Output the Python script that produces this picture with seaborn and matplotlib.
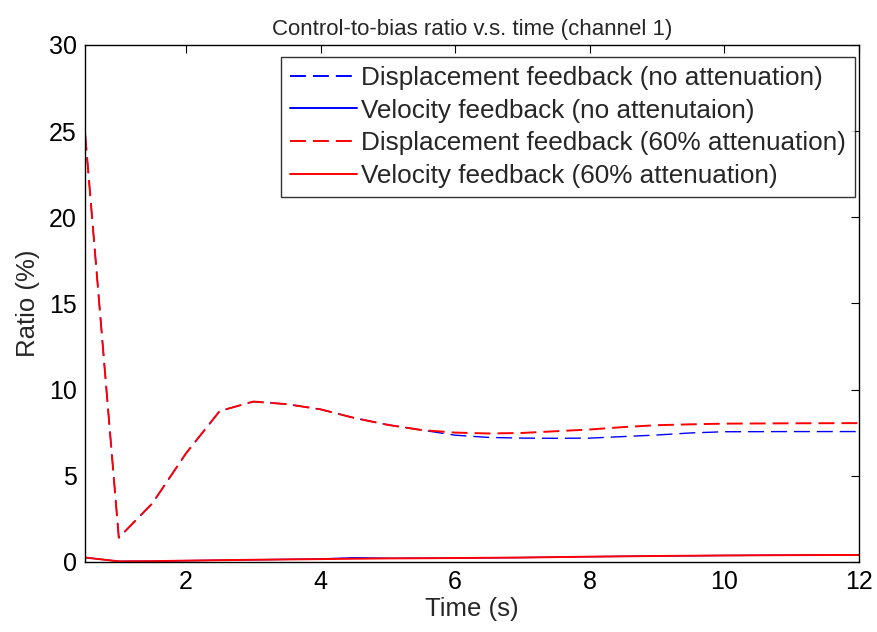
import numpy as np
import pandas as pd
import matplotlib
matplotlib.use("Agg")
import matplotlib.pyplot as plt
import seaborn as sns

# Time samples (s)
t_disp = [0.5, 1.0, 1.5, 2.0, 2.5, 3.0, 3.5, 4.0, 4.5, 5.0, 5.5, 6.0, 6.5, 7.0,
          7.5, 8.0, 8.5, 9.0, 9.5, 10.0, 11.0, 12.0]
# Displacement feedback, no attenuation (%)
disp_no_att = [24.8, 1.4, 3.4, 6.3, 8.75, 9.3, 9.15, 8.85, 8.35, 7.95, 7.65, 7.35,
               7.22, 7.18, 7.17, 7.18, 7.27, 7.36, 7.48, 7.55, 7.56, 7.56]
# Displacement feedback, 60% attenuation (%)
disp_60_att = [24.8, 1.4, 3.4, 6.3, 8.75, 9.3, 9.15, 8.85, 8.35, 7.95, 7.65, 7.5,
               7.45, 7.48, 7.58, 7.68, 7.82, 7.93, 7.98, 8.02, 8.04, 8.05]

t_vel = [0.5, 1.0, 1.5, 2.0, 3.0, 4.0, 4.5, 5.0, 6.0, 7.0, 8.0, 9.0, 10.0, 11.0, 12.0]
# Velocity feedback, no attenuation (%)
vel_no_att = [0.25, 0.03, 0.04, 0.07, 0.12, 0.17, 0.24, 0.21, 0.22, 0.25, 0.3,
              0.34, 0.37, 0.39, 0.4]
# Velocity feedback, 60% attenuation (%)
vel_60_att = [0.25, 0.03, 0.04, 0.07, 0.12, 0.16, 0.18, 0.2, 0.22, 0.25, 0.3,
              0.34, 0.37, 0.39, 0.4]

labels = ["Displacement feedback (no attenuation)",
          "Velocity feedback (no attenutaion)",
          "Displacement feedback (60% attenuation)",
          "Velocity feedback (60% attenuation)"]

sns.set_theme(style="white")
plt.rcParams["font.family"] = ["Liberation Sans", "DejaVu Sans"]

fig = plt.figure(figsize=(8.78, 6.32), dpi=100)
ax = fig.add_axes([0.097, 0.111, 0.881, 0.818])

dash = (0, (8.2, 3.6))
# the no-attenuation curves sit underneath, slightly thinner, so the
# attenuated curves cover them where the two coincide
series = [
    (t_disp, disp_no_att, labels[0], "#0000ff", (0, (11.5, 5.0)), 1.0),
    (t_vel, vel_no_att, labels[1], "#0000ff", "-", 1.0),
    (t_disp, disp_60_att, labels[2], "#ff0000", dash, 1.4),
    (t_vel, vel_60_att, labels[3], "#ff0000", "-", 1.4),
]
for t, y, lab, col, ls, lw in series:
    df = pd.DataFrame({"Time": t, "Ratio": y})
    sns.lineplot(data=df, x="Time", y="Ratio", ax=ax, color=col,
                 linestyle=ls, linewidth=lw, label=lab)

ax.set_xlim(0.5, 12)
ax.set_ylim(0, 30)
ax.set_xticks([2, 4, 6, 8, 10, 12])
ax.set_yticks([0, 5, 10, 15, 20, 25, 30])
ax.tick_params(direction="in", length=6, width=0.8, top=True, right=True,
               labelsize=18, pad=6, colors="black")
for sp in ax.spines.values():
    sp.set_color("black")
    sp.set_linewidth(1.0)

ax.set_xlabel("Time (s)", fontsize=18.5, labelpad=2)
ax.set_ylabel("Ratio (%)", fontsize=18.5, labelpad=6)
ax.set_title("Control-to-bias ratio v.s. time (channel 1)", fontsize=16, pad=7)

leg = ax.legend(loc="upper right", bbox_to_anchor=(0.9948, 0.977),
                fontsize=18.8, frameon=True, fancybox=False,
                borderaxespad=0.0, handlelength=2.55, handletextpad=0.15,
                borderpad=0.35, labelspacing=0.33)
leg.get_frame().set_edgecolor("black")
leg.get_frame().set_linewidth(1.0)
for h in leg.get_lines():
    h.set_linewidth(1.4)
    if h.get_linestyle() != "-":
        h.set_dashes((8.2, 3.6))

fig.savefig("out.png", dpi=100, facecolor="white")
